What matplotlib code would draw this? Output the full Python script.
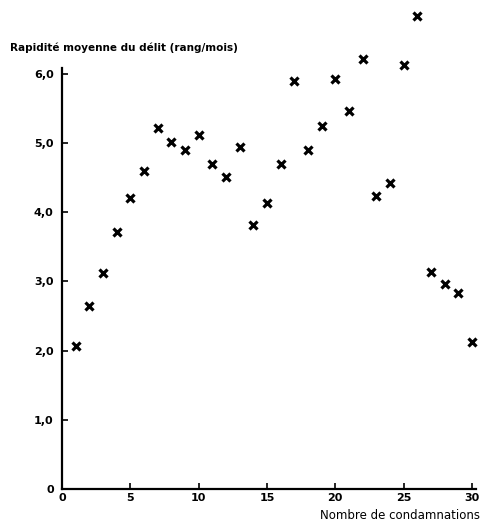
import matplotlib.pyplot as plt

# nombre de condamnations / rapidite moyenne du delit
condamnations = list(range(1, 31))
rapidite = [2.06, 2.65, 3.12, 3.72, 4.21, 4.60, 5.21, 5.01, 4.90, 5.12,
            4.70, 4.51, 4.94, 3.81, 4.13, 4.69, 5.89, 4.90, 5.24, 5.92,
            5.46, 6.21, 4.23, 4.42, 6.12, 6.83, 3.13, 2.96, 2.83, 2.13]
xticks = [0, 5, 10, 15, 20, 25, 30]
yticks = [0, 1, 2, 3, 4, 5, 6]
ylabels = ['0', '1,0', '2,0', '3,0', '4,0', '5,0', '6,0']

plt.rcParams['font.family'] = 'DejaVu Sans'
plt.rcParams['font.weight'] = 'bold'

fig = plt.figure(figsize=(4.82, 5.24), dpi=100)
ax = fig.add_axes([0.1286, 0.0668, 0.859, 0.803])

ax.plot(condamnations, rapidite, linestyle='none', marker='x', color='black',
        markersize=6, markeredgewidth=2.3, clip_on=False)

ax.set_xlim(0, 30.3)
ax.set_ylim(0, 6.08)
ax.spines['top'].set_visible(False)
ax.spines['right'].set_visible(False)
ax.spines['left'].set_linewidth(1.6)
ax.spines['bottom'].set_linewidth(1.6)

ax.set_xticks(xticks)
ax.set_xticklabels([str(t) for t in xticks], fontsize=8, fontweight='bold')
ax.set_yticks(yticks)
ax.set_yticklabels(ylabels, fontsize=8, fontweight='bold')
ax.tick_params(axis='both', direction='in', length=4, width=1.2)
ax.tick_params(axis='y', pad=6)
ax.tick_params(axis='x', pad=3)

fig.text(0.02, 0.908, 'Rapidité moyenne du délit (rang/mois)', fontsize=7.5,
         fontweight='bold', va='center', ha='left')
fig.text(0.995, 0.017, 'Nombre de condamnations', fontsize=8.5,
         fontweight='normal', va='center', ha='right')

fig.savefig('out.png', dpi=100)
